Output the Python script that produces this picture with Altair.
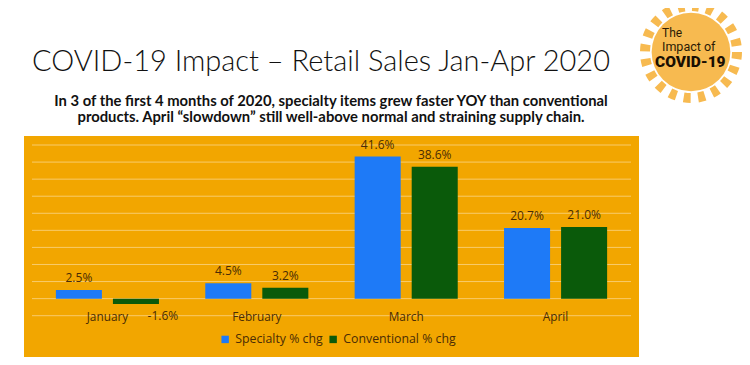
import altair as alt
import pandas as pd

months = ["January", "February", "March", "April"]
specialty = [2.5, 4.5, 41.6, 20.7]
conventional = [-1.6, 3.2, 38.6, 21.0]
series_names = ["Specialty % chg", "Conventional % chg"]
series_colors = ["#1E7AF7", "#0A5A0A"]
grid_values = [-5, 0, 5, 10, 15, 20, 25, 30, 35, 40, 45]

title_text = "COVID-19 Impact – Retail Sales Jan-Apr 2020"
subtitle_lines = ["In 3 of the first 4 months of 2020, specialty items grew faster YOY than conventional",
                  "products. April “slowdown” still well-above normal and straining supply chain."]
badge_lines = ["The", "Impact of", "COVID-19"]

rows = []
for m, s, c in zip(months, specialty, conventional):
    rows.append({"month": m, "series": series_names[0], "value": s})
    rows.append({"month": m, "series": series_names[1], "value": c})
df = pd.DataFrame(rows)
df["label"] = df["value"].map(lambda v: f"{v:.1f}%")

W, H = 615, 221
ORANGE = "#F2A600"
TEXT = "#4A2C05"

x_enc = alt.X("month:N", sort=months,
              scale=alt.Scale(paddingInner=0.31, paddingOuter=0.2134),
              axis=alt.Axis(title=None, domain=False, ticks=False, grid=False,
                            labelAngle=0, labelFont="Open Sans", labelFontSize=11.8,
                            labelColor=TEXT, labelPadding=0, labelBaseline="middle",
                            offset=-41, zindex=2))
y_scale = alt.Scale(domain=[-17.1, 47.64], nice=False, zero=False)
y_enc = alt.Y("value:Q", scale=y_scale, axis=None)
xoff = alt.XOffset("series:N", sort=series_names,
                   scale=alt.Scale(paddingInner=0.193))

grid = alt.Chart(pd.DataFrame({"g": grid_values})).mark_rule(
    color="#F8CB6A", strokeWidth=1
).encode(y=alt.Y("g:Q", scale=y_scale, axis=None),
         x=alt.value(8), x2=alt.value(607))

base = alt.Chart(df)

bars = base.mark_bar().encode(
    x=x_enc,
    xOffset=xoff,
    y=y_enc,
    color=alt.Color("series:N", sort=series_names,
                    scale=alt.Scale(domain=series_names, range=series_colors),
                    legend=alt.Legend(orient="none", legendX=195, legendY=197,
                                      direction="horizontal", title=None,
                                      symbolType="square", symbolSize=55,
                                      symbolStrokeWidth=0,
                                      labelFont="Open Sans", labelFontSize=12.3,
                                      labelColor=TEXT, columnPadding=4)),
)

lab_pos = base.transform_filter("datum.value >= 0").mark_text(
    baseline="bottom", dy=-5, font="Open Sans", fontSize=12, color=TEXT
).encode(x=x_enc, xOffset=xoff, y=y_enc, text="label:N")

lab_neg = base.transform_filter("datum.value < 0").mark_text(
    baseline="middle", dy=12, dx=27, font="Open Sans", fontSize=12, color=TEXT
).encode(x=x_enc, xOffset=xoff, y=y_enc, text="label:N")

# headings
title_mark = alt.Chart(pd.DataFrame({"t": [title_text]})).mark_text(
    align="center", baseline="alphabetic", font="Lato", fontSize=29,
    fontWeight=300, color="#111111"
).encode(x=alt.value(297), y=alt.value(-65), text="t:N")
sub1 = alt.Chart(pd.DataFrame({"t": [subtitle_lines[0]]})).mark_text(
    align="center", baseline="middle", font="Lato", fontSize=14.8,
    fontWeight="bold", color="#111111"
).encode(x=alt.value(307), y=alt.value(-34.5), text="t:N")
sub2 = alt.Chart(pd.DataFrame({"t": [subtitle_lines[1]]})).mark_text(
    align="center", baseline="middle", font="Lato", fontSize=14.8,
    fontWeight="bold", color="#111111"
).encode(x=alt.value(307), y=alt.value(-18), text="t:N")

# badge "The Impact of COVID-19"
BADGE = "#F7BA50"
badge_ring = alt.Chart(pd.DataFrame({"k": [0]})).mark_point(
    shape="circle", filled=False, size=8464, color=BADGE,
    strokeWidth=10, strokeDash=[7, 7.5], opacity=1
).encode(x=alt.value(667), y=alt.value(-84))
badge_disc = alt.Chart(pd.DataFrame({"k": [0]})).mark_point(
    shape="circle", filled=True, size=6200, color=BADGE, opacity=1
).encode(x=alt.value(667), y=alt.value(-84))
badge_t1 = alt.Chart(pd.DataFrame({"t": [badge_lines[0]]})).mark_text(
    align="left", baseline="middle", font="Roboto", fontSize=12, color="#2B1A05"
).encode(x=alt.value(638), y=alt.value(-103), text="t:N")
badge_t2 = alt.Chart(pd.DataFrame({"t": [badge_lines[1]]})).mark_text(
    align="left", baseline="middle", font="Roboto", fontSize=12.5, color="#2B1A05"
).encode(x=alt.value(638), y=alt.value(-89), text="t:N")
badge_t3 = alt.Chart(pd.DataFrame({"t": [badge_lines[2]]})).mark_text(
    align="left", baseline="middle", font="Roboto", fontSize=15.5,
    fontWeight=900, color="#1A0F02"
).encode(x=alt.value(631), y=alt.value(-74), text="t:N")

chart = alt.layer(
    grid, bars, lab_pos, lab_neg, title_mark, sub1, sub2,
    badge_ring, badge_disc, badge_t1, badge_t2, badge_t3
).properties(
    width=W, height=H,
    padding={"left": 16, "top": 128, "right": 103, "bottom": 0},
    autosize=alt.AutoSizeParams(type="none"),
    background="white",
).configure_view(stroke=None, fill=ORANGE)

chart.save("out.html", embed_options={"renderer": "svg", "actions": False})
